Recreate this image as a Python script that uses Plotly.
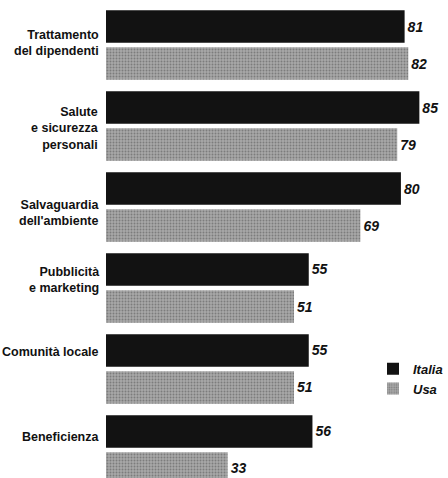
import plotly.graph_objects as go

categories = ["Trattamento<br>del dipendenti", "Salute<br>e sicurezza<br>personali",
              "Salvaguardia<br>dell'ambiente", "Pubblicità<br>e marketing",
              "Comunità locale", "Beneficienza"]
italia = [81, 85, 80, 55, 55, 56]
usa = [82, 79, 69, 51, 51, 33]

label_shift = [2, -2, -6, 8, 17, 13]  # pixel nudges for category labels

FONT = "Liberation Sans, Arial, sans-serif"
pos = list(range(len(categories)))

fig = go.Figure()
fig.add_trace(go.Bar(
    name="Italia", y=pos, x=italia, orientation="h",
    marker=dict(color="#121212", line=dict(width=0)),
    text=[str(v) for v in italia], textposition="outside",
    textfont=dict(family=FONT, size=14, color="#111", weight="bold", style="italic"),
    cliponaxis=False,
))
fig.add_trace(go.Bar(
    name="Usa", y=pos, x=usa, orientation="h",
    marker=dict(color="#9a9a9a", line=dict(width=0),
                pattern=dict(shape=".", bgcolor="#a8a8a8", fgcolor="#505050",
                             size=3, solidity=0.35)),
    text=[str(v) for v in usa], textposition="outside",
    textfont=dict(family=FONT, size=14, color="#111", weight="bold", style="italic"),
    cliponaxis=False,
))

for i, c in enumerate(categories):
    fig.add_annotation(
        x=0, y=i, xref="x", yref="y", text="<b>" + c + "</b>",
        xanchor="right", yanchor="middle", align="right",
        xshift=-5, yshift=label_shift[i], showarrow=False,
        font=dict(family=FONT, size=12.5, color="#111"),
    )

fig.update_layout(
    width=448, height=478,
    margin=dict(l=106, r=0, t=0, b=0),
    paper_bgcolor="white", plot_bgcolor="white",
    barmode="group", bargap=0.086, bargroupgap=0.12,
    showlegend=True,
    legend=dict(x=0.80, y=0.26, xanchor="left", yanchor="top",
                font=dict(family=FONT, size=13, color="#111", weight="bold", style="italic"),
                traceorder="normal", bgcolor="rgba(0,0,0,0)",
                itemwidth=30, tracegroupgap=0),
    xaxis=dict(range=[0, 90.6], visible=False),
    yaxis=dict(range=[5.346, -0.556], visible=False),
)

fig.write_html("out.html")
